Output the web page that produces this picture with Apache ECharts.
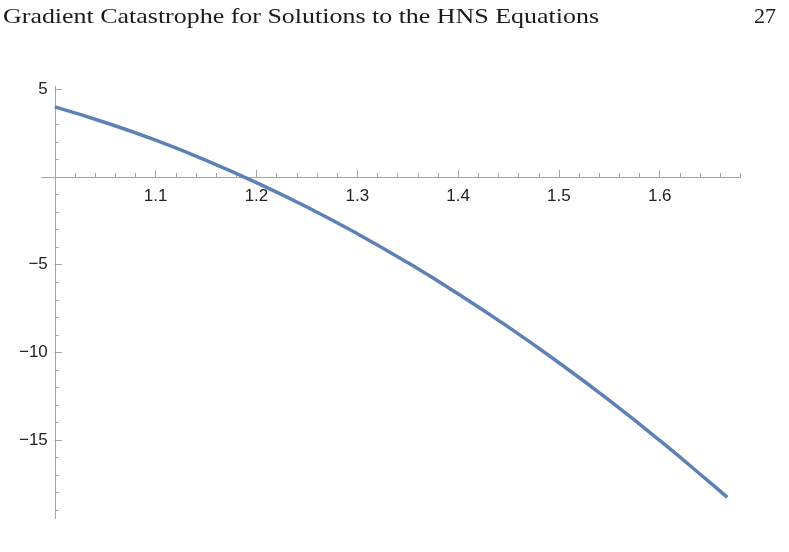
<!DOCTYPE html>
<html>
<head>
<meta charset="utf-8">
<script src="https://cdn.jsdelivr.net/npm/echarts@6/dist/echarts.min.js"></script>
<style>html,body{margin:0;padding:0;background:#fff;}#chart{width:789px;height:552px;}</style>
</head>
<body>
<div id="chart"></div>
<script>
// Data
const xValues = [1.00, 1.05, 1.10, 1.15, 1.20, 1.25, 1.30, 1.35, 1.40, 1.45, 1.50, 1.55, 1.60, 1.65, 1.667];
const yValues = [4.00, 3.11, 2.10, 0.95, -0.32, -1.71, -3.23, -4.88, -6.66, -8.56, -10.59, -12.74, -15.02, -17.43, -18.27];
const xTickLabels = ['1.1', '1.2', '1.3', '1.4', '1.5', '1.6'];
const yTickLabels = ['5', '−5', '−10', '−15'];
const headerTitle = 'Gradient Catastrophe for Solutions to the HNS Equations';
const pageNumber = '27';

const xOrigin = 1.0;  // y axis crosses x axis here
const xMin = -0.013, xMax = 0.68;
const yMin = -19.46, yMax = 5.15;

const W = 789, H = 552;
const G = {left: 41.7, right: 48.6, top: 86.7, bottom: 33.7};
const gw = W - G.left - G.right, gh = H - G.top - G.bottom;
// offsets so that the label-only axes sit on the zero lines
const zeroYpx = G.top + (yMax - 0) / (yMax - yMin) * gh;
const zeroXpx = G.left + (0 - xMin) / (xMax - xMin) * gw;
const xLabelOffset = -((H - G.bottom) - zeroYpx);
const yLabelOffset = -(zeroXpx - G.left);

const majorX = xTickLabels.map(s => +(parseFloat(s) - xOrigin).toFixed(3));
const majorY = yTickLabels.map(s => parseFloat(s.replace('−', '-')));
const minorX = [];
for (let i = 1; i <= 34; i++) minorX.push(+(i * 0.02).toFixed(3));
const minorY = [];
for (let v = -19; v <= 5; v++) minorY.push(v);

const axisColor = '#a4a4a4';
const labelColor = '#222';
const labelFont = 'Liberation Sans';

// header font fit
const headerFont = '22px "Liberation Serif"';
const cv = document.createElement('canvas').getContext('2d');
cv.font = headerFont;
const headerScale = 596 / cv.measureText(headerTitle).width;

const chart = echarts.init(document.getElementById('chart'), null, {renderer: 'canvas'});

function tickAxisX(major) {
  return {
    type: 'value', min: xMin, max: xMax, position: 'bottom',
    axisLine: {show: true, onZero: true, onZeroAxisIndex: 0, lineStyle: {color: axisColor, width: 1}},
    axisTick: {show: true, inside: true, length: major ? 7 : 4, customValues: major ? majorX : minorX,
      lineStyle: {color: axisColor, width: 1}},
    axisLabel: {show: false}, splitLine: {show: false}, minorTick: {show: false}
  };
}
function tickAxisY(major) {
  return {
    type: 'value', min: yMin, max: yMax, position: 'left',
    axisLine: {show: true, onZero: true, onZeroAxisIndex: 0, lineStyle: {color: axisColor, width: 1}},
    axisTick: {show: true, inside: true, length: major ? 7 : 4, customValues: major ? majorY : minorY,
      lineStyle: {color: axisColor, width: 1}},
    axisLabel: {show: false}, splitLine: {show: false}, minorTick: {show: false}
  };
}
const labelAxisX = {
  type: 'value', min: xMin, max: xMax, position: 'bottom', offset: xLabelOffset,
  axisLine: {show: false, onZero: false}, axisTick: {show: false}, splitLine: {show: false},
  axisLabel: {show: true, customValues: majorX, margin: 11, fontSize: 17, fontFamily: labelFont, color: labelColor,
    formatter: v => { const i = majorX.findIndex(m => Math.abs(m - v) < 1e-6); return i >= 0 ? xTickLabels[i] : ''; }}
};
const labelAxisY = {
  type: 'value', min: yMin, max: yMax, position: 'left', offset: yLabelOffset,
  axisLine: {show: false, onZero: false}, axisTick: {show: false}, splitLine: {show: false},
  axisLabel: {show: true, customValues: majorY, margin: 7, fontSize: 17, fontFamily: labelFont, color: labelColor,
    formatter: v => { const i = majorY.findIndex(m => Math.abs(m - v) < 1e-6); return i >= 0 ? yTickLabels[i] : ''; }}
};

chart.setOption({
  animation: false,
  backgroundColor: '#fff',
  grid: {left: G.left, right: G.right, top: G.top, bottom: G.bottom, containLabel: false},
  xAxis: [tickAxisX(true), tickAxisX(false), labelAxisX],
  yAxis: [tickAxisY(true), tickAxisY(false), labelAxisY],
  graphic: [
    {type: 'text', x: 3, y: 6, scaleX: headerScale, style: {text: headerTitle, font: headerFont, fill: '#1a1a1a'}},
    {type: 'text', right: 13, top: 6, style: {text: pageNumber, font: headerFont, fill: '#1a1a1a'}}
  ],
  series: [{
    type: 'line', xAxisIndex: 0, yAxisIndex: 0,
    data: xValues.map((x, i) => [x - xOrigin, yValues[i]]),
    smooth: true, showSymbol: false, symbol: 'none',
    lineStyle: {color: '#5E81B5', width: 3.5}
  }]
});
</script>
</body>
</html>
